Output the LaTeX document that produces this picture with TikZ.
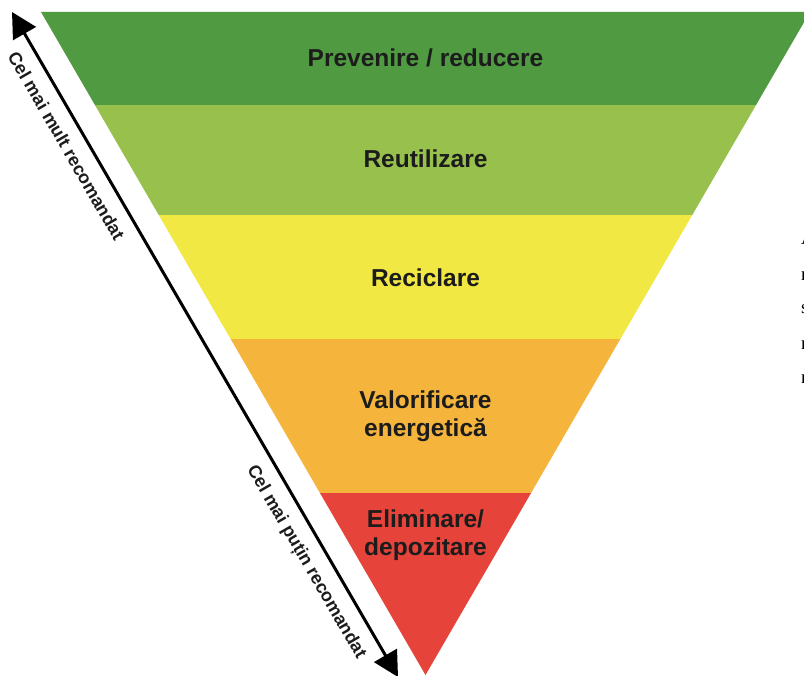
\documentclass[tikz,border=0pt]{standalone}
\usepackage{fontspec}
\setmainfont{Liberation Sans}
\newfontfamily\serifpart{Liberation Serif}
\usetikzlibrary{arrows.meta}
\definecolor{cDark}{HTML}{509B41}
\definecolor{cLight}{HTML}{97C04C}
\definecolor{cYellow}{HTML}{F2E843}
\definecolor{cOrange}{HTML}{F5B53D}
\definecolor{cRed}{HTML}{E6433A}
\definecolor{txt}{HTML}{1C1C1C}
\begin{document}
\begin{tikzpicture}[x=1pt,y=-1pt,
  lvl/.style={font=\bfseries\fontsize{24.5}{27.5}\selectfont, text=txt, align=center, inner sep=0pt},
  side/.style={font=\bfseries\fontsize{18}{20}\selectfont, text=txt, inner sep=0pt, sloped, below=12pt},
  frag/.style={font=\serifpart\fontsize{19}{21}\selectfont, text=black, inner sep=0pt, anchor=base west},
  dbl/.style={line width=3pt, draw=black, {Triangle[length=25pt,width=26pt]}-{Triangle[length=25pt,width=26pt]}}]
\useasboundingbox (0,0) rectangle (804,676);
\fill[white] (0,0) rectangle (804,676);
% inverted triangle with bands
\coordinate (tl) at (41,12);
\coordinate (tr) at (810,12);
\coordinate (apex) at (425.5,675);
\begin{scope}
  \clip (tl) -- (tr) -- (apex) -- cycle;
  \fill[cDark]   (0,0)   rectangle (820,105);
  \fill[cLight]  (0,105) rectangle (820,215);
  \fill[cYellow] (0,215) rectangle (820,339);
  \fill[cOrange] (0,339) rectangle (820,493);
  \fill[cRed]    (0,493) rectangle (820,680);
\end{scope}
% level labels
\node[lvl, anchor=base] (l1) at (425.5,67) {Prevenire / reducere};
\node[lvl, anchor=base] (l2) at (425.5,168) {Reutilizare};
\node[lvl, anchor=base] (l3) at (425.5,287) {Reciclare};
\node[lvl] (l4) at (425.5,416) {Valorificare\\energetică};
\node[lvl] (l5) at (425.5,535) {Eliminare/\\depozitare};
% double arrow
\coordinate (atop) at (12,12);
\coordinate (abot) at (398,677);
\draw[dbl] (atop) -- node[side, pos=0.186] (s1) {Cel mai mult recomandat}
                     node[side, pos=0.811] (s2) {Cel mai puțin recomandat} (abot);
% clipped text fragments at right edge
\node[frag] (f1) at (801,245) {A};
\node[frag] (f2) at (801,281) {n};
\node[frag] (f3) at (801,314) {s};
\node[frag] (f4) at (801,350) {n};
\node[frag] (f5) at (801,384) {n};
\end{tikzpicture}
\end{document}
